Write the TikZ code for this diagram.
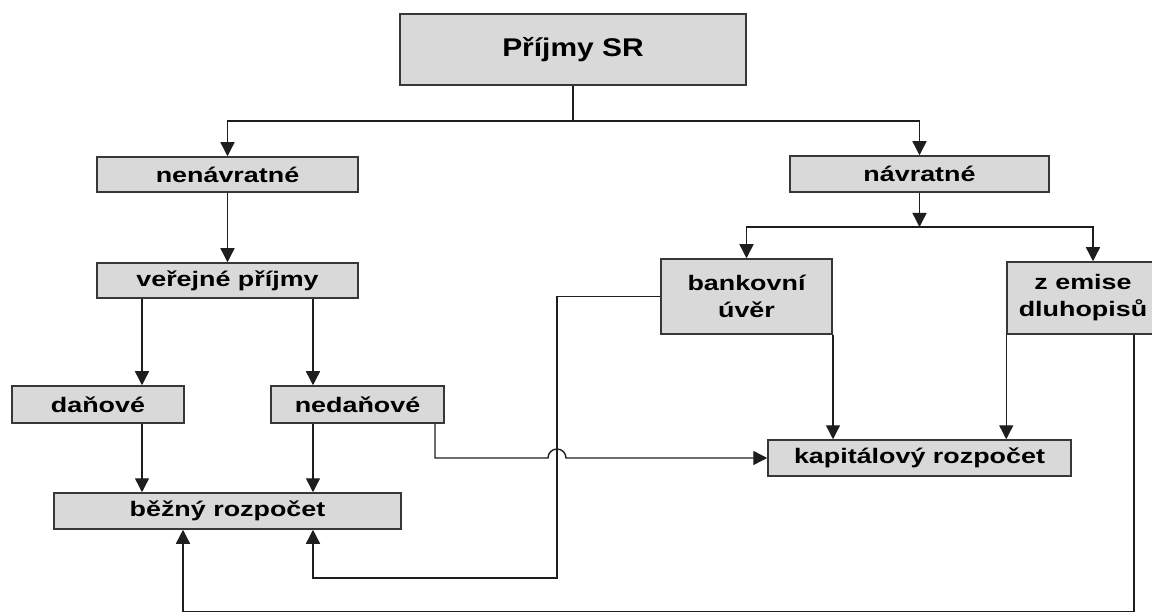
\documentclass[tikz,border=0pt]{standalone}
\usepackage{fontspec}
\setmainfont{Liberation Sans}
\newfontfamily\bodyf{Liberation Sans}[FakeStretch=1.28]
\newfontfamily\titlef{Liberation Sans}[FakeStretch=1.17]
\usetikzlibrary{arrows.meta,calc}
\definecolor{boxfill}{RGB}{217,217,217}
\definecolor{boxline}{RGB}{55,55,55}
\definecolor{connc}{RGB}{30,30,30}
\begin{document}
\begin{tikzpicture}[x=1pt,y=-1pt,
  box/.style={draw=boxline,fill=boxfill,line width=1.5pt,inner sep=0pt,align=center,
    text=black,font=\bodyf\bfseries\fontsize{21}{27}\selectfont},
  titlebox/.style={box,font=\titlef\bfseries\fontsize{25.6}{30}\selectfont},
  conn/.style={draw=connc,line width=1.4pt},
  arr/.style={conn,-{Triangle[length=14pt,width=14pt]}}]
\useasboundingbox (0,0) rectangle (1152,612);
\clip (0,0) rectangle (1152,612);

% nodes
\node[titlebox,minimum width=346,minimum height=71] (prijmy) at (573,49.5) {Příjmy SR};
\node[box,minimum width=261,minimum height=35] (nenav) at (227.5,174.5) {nenávratné};
\node[box,minimum width=261,minimum height=35] (verejne) at (227.5,280.5) {veřejné příjmy};
\node[box,minimum width=172,minimum height=37] (danove) at (98,404.5) {daňové};
\node[box,minimum width=173,minimum height=37] (nedanove) at (357.5,404.5) {nedaňové};
\node[box,minimum width=347,minimum height=36] (bezny) at (227.5,511) {běžný rozpočet};
\node[box,minimum width=259,minimum height=36] (navrat) at (919.5,174) {návratné};
\node[box,minimum width=171,minimum height=75] (bankovni) at (746.5,296.5) {bankovní\\úvěr};
\node[box,minimum width=152,minimum height=72] (zemise) at (1083,298) {z emise\\dluhopisů};
\node[box,minimum width=303,minimum height=36] (kapital) at (919.5,458) {kapitálový rozpočet};

% helper columns / rows
\coordinate (cA) at (142,0);
\coordinate (cB) at (313,0);
\coordinate (cC) at (183,0);
\coordinate (cD) at (435,0);
\coordinate (cE) at (557,0);
\coordinate (cG) at (833,0);
\coordinate (cI) at (1093,0);
\coordinate (cJ) at (1134,0);
\coordinate (rTop) at (0,121);
\coordinate (rN) at (0,227);
\coordinate (rL) at (0,578);
\coordinate (rB) at (0,612);
\coordinate (j1) at (prijmy.south |- rTop);
\coordinate (j2) at (navrat.south |- rN);

% connectors
\draw[conn] (prijmy.south) -- (j1);
\draw[arr] (j1) -| (nenav.north);
\draw[arr] (j1) -| (navrat.north);
\draw[arr] (nenav.south) -- (verejne.north);
\draw[arr] (verejne.south -| cA) -- (danove.north -| cA);
\draw[arr] (verejne.south -| cB) -- (nedanove.north -| cB);
\draw[arr] (danove.south -| cA) -- (bezny.north -| cA);
\draw[arr] (nedanove.south -| cB) -- (bezny.north -| cB);
\draw[arr] (navrat.south) -- (j2);
\draw[arr] (j2) -| (bankovni.north);
\draw[arr] (j2) -| (zemise.north -| cI);
\draw[arr] (bankovni.south -| cG) -- (kapital.north -| cG);
\draw[arr] (zemise.south west) -- (kapital.north -| zemise.south west);
\draw[arr] (nedanove.south -| cD) |- ($(cE |- kapital.west)+(-9,0)$) arc(180:360:9) -- (kapital.west);
\draw[arr] (bankovni.west) -| (cE |- rL) -| (bezny.south -| cB);
\draw[arr] (zemise.south -| cJ) -- (cJ |- rB) -| (bezny.south -| cC);
\end{tikzpicture}
\end{document}
